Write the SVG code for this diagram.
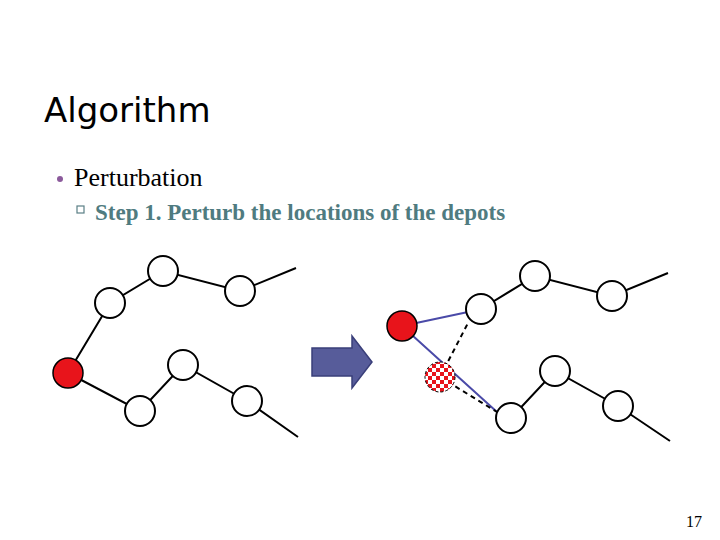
<svg xmlns="http://www.w3.org/2000/svg" width="720" height="540" viewBox="0 0 720 540">
<style>
.n{fill:#fff;stroke:#000;stroke-width:2}
.d{fill:#e8141b;stroke:#000;stroke-width:1.5}
.e{stroke:#000;stroke-width:2;fill:none}
.b{stroke:#4a4aa8;stroke-width:2;fill:none}
.k{stroke:#000;stroke-width:2;fill:none;stroke-dasharray:5,4}
</style>
<defs>
<pattern id="chk" width="8" height="8" patternUnits="userSpaceOnUse">
<rect width="8" height="8" fill="#e8141b"/><rect width="4" height="4" fill="#fff"/><rect x="4" y="4" width="4" height="4" fill="#fff"/>
</pattern>
</defs>
<rect width="720" height="540" fill="#fff"/>
<text x="44" y="122" font-family="DejaVu Sans, sans-serif" font-size="34" fill="#000">Algorithm</text>
<circle cx="60" cy="179" r="3" fill="#8b5a9b"/>
<text x="74" y="186" font-family="Liberation Serif, serif" font-size="26" fill="#000">Perturbation</text>
<rect x="77" y="206" width="7" height="7" fill="none" stroke="#5a7f85" stroke-width="1.2"/>
<text x="95" y="220" font-family="Liberation Serif, serif" font-size="23" font-weight="bold" fill="#4f7b80">Step 1. Perturb the locations of the depots</text>
<g id="connectors">
<path class="e" d="M68 373L110 303L163 271L240 291L296 268"/>
<path class="e" d="M68 373L140 411L183 365L247 401L298 437"/>
<path class="e" d="M481 309L535 276L612 296L668 273"/>
<path class="e" d="M511 418L555 371L618 406L670 441"/>
<path class="b" d="M402 326L468 312M402 326L497 412"/>
<path class="k" d="M440 377L468 323M440 377L497 412"/>
</g>
<g id="left-depot"><circle class="d" cx="68" cy="373" r="15"/></g>
<g id="l1"><circle class="n" cx="110" cy="303" r="15"/></g>
<g id="l2"><circle class="n" cx="163" cy="271" r="15"/></g>
<g id="l3"><circle class="n" cx="240" cy="291" r="15"/></g>
<g id="l4"><circle class="n" cx="140" cy="411" r="15"/></g>
<g id="l5"><circle class="n" cx="183" cy="365" r="15"/></g>
<g id="l6"><circle class="n" cx="247" cy="401" r="15"/></g>
<g id="arrow"><path d="M312 348H352V336L372 362L352 388V376H312Z" fill="#575c9a" stroke="#3a3f7a" stroke-width="1.5"/></g>
<g id="right-depot"><circle class="d" cx="402" cy="326" r="15"/></g>
<g id="perturbed-depot"><circle cx="440" cy="377" r="15" fill="url(#chk)" stroke="#000" stroke-width="1" stroke-dasharray="3,2"/></g>
<g id="r1"><circle class="n" cx="481" cy="309" r="15"/></g>
<g id="r2"><circle class="n" cx="535" cy="276" r="15"/></g>
<g id="r3"><circle class="n" cx="612" cy="296" r="15"/></g>
<g id="r4"><circle class="n" cx="511" cy="418" r="15"/></g>
<g id="r5"><circle class="n" cx="555" cy="371" r="15"/></g>
<g id="r6"><circle class="n" cx="618" cy="406" r="15"/></g>
<text x="702" y="527" font-family="Liberation Serif, serif" font-size="16" text-anchor="end" fill="#000">17</text>
</svg>
